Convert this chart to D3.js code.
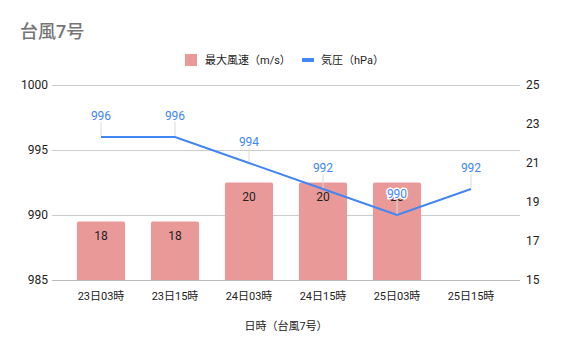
<!DOCTYPE html>
<html><head><meta charset="utf-8">
<script src="https://cdn.jsdelivr.net/npm/d3@7"></script>
<style>
body{margin:0;background:#fff;}
text{font-family:Roboto,"Noto Sans CJK JP",sans-serif;}
</style></head>
<body><svg id="chart" width="565" height="350"></svg>
<script>
const categories = ["23日03時","23日15時","24日03時","24日15時","25日03時","25日15時"];
const windSpeed = [18, 18, 20, 20, 20, null];
const pressure = [996, 996, 994, 992, 990, 992];
const pressureTicks = [985, 990, 995, 1000];
const windTicks = [15, 17, 19, 21, 23, 25];

const svg = d3.select("#chart");
const plotLeft = 52, plotRight = 520, plotTop = 85, plotBottom = 280;

const x = d3.scaleBand().domain(categories).range([plotLeft + 12, plotRight - 12]).paddingInner(0.35).paddingOuter(0.175);
const xc = d => x(d) + x.bandwidth() / 2;
const yP = d3.scaleLinear().domain([985, 1000]).range([plotBottom, plotTop]);
const yW = d3.scaleLinear().domain([15, 25]).range([plotBottom, plotTop]);

// title
svg.append("text").attr("x", 20).attr("y", 38).attr("font-size", 18).attr("font-weight", 500)
  .attr("fill", "#757575").text("台風7号");

// legend
const lg = svg.append("g").attr("font-size", 11).attr("fill", "#222");
lg.append("rect").attr("x", 185).attr("y", 54).attr("width", 12).attr("height", 12).attr("fill", "#ea9999");
lg.append("text").attr("x", 205).attr("y", 64).text("最大風速（m/s）");
lg.append("rect").attr("x", 302).attr("y", 58).attr("width", 12).attr("height", 4).attr("fill", "#4285f4");
lg.append("text").attr("x", 321).attr("y", 64).text("気圧（hPa）");

// gridlines and left axis
const gl = d3.axisLeft(yP).tickValues(pressureTicks).tickFormat(d3.format("d"))
  .tickSize(-(plotRight - plotLeft)).tickPadding(6);
const ga = svg.append("g").attr("transform", `translate(${plotLeft},0)`).call(gl);
ga.select(".domain").remove();
ga.selectAll(".tick line").attr("stroke", "#cccccc");
ga.selectAll(".tick line").filter(d => d === 985).attr("stroke", "#bbbbbb");
ga.selectAll(".tick text").attr("font-size", 12).attr("fill", "#222").attr("x", -4);

// right axis
const gr = svg.append("g").attr("transform", `translate(${plotRight},0)`).call(d3.axisRight(yW).tickValues(windTicks).tickSize(0).tickPadding(6));
gr.select(".domain").remove();
gr.selectAll(".tick text").attr("font-size", 12).attr("fill", "#222");

// bottom axis labels
const gb = svg.append("g").attr("transform", `translate(0,${plotBottom})`).call(d3.axisBottom(x).tickSize(0).tickPadding(12));
gb.select(".domain").remove();
gb.selectAll(".tick text").attr("font-size", 11).attr("fill", "#222");

svg.append("text").attr("x", 286).attr("y", 330).attr("text-anchor", "middle")
  .attr("font-size", 11).attr("fill", "#222").text("日時（台風7号）");

// bars with slightly rounded tops
const r = 2;
const barData = categories.map((c, i) => ({c, v: windSpeed[i]})).filter(d => d.v != null);
svg.append("g").selectAll("path").data(barData).join("path")
  .attr("fill", "#ea9999")
  .attr("d", d => {
    const x0 = x(d.c), x1 = x0 + x.bandwidth(), y0 = yW(d.v), y1 = yW(15);
    return `M${x0},${y1}V${y0 + r}Q${x0},${y0} ${x0 + r},${y0}H${x1 - r}Q${x1},${y0} ${x1},${y0 + r}V${y1}Z`;
  });
svg.append("g").selectAll("text").data(barData).join("text")
  .attr("x", d => xc(d.c)).attr("y", d => yW(d.v) + 18).attr("text-anchor", "middle")
  .attr("font-size", 12).attr("fill", "#222").text(d => d.v);

// pressure line
const pts = categories.map((c, i) => ({c, v: pressure[i]}));
svg.append("path").datum(pts).attr("fill", "none").attr("stroke", "#4285f4").attr("stroke-width", 2)
  .attr("d", d3.line().x(d => xc(d.c)).y(d => yP(d.v)));

// leader lines and labels
svg.append("g").selectAll("line").data(pts).join("line")
  .attr("x1", d => xc(d.c)).attr("x2", d => xc(d.c))
  .attr("y1", d => yP(d.v) - 15).attr("y2", d => yP(d.v) - 1)
  .attr("stroke", "#d9d9d9").attr("stroke-width", 1);
svg.append("g").selectAll("text").data(pts).join("text")
  .attr("x", d => xc(d.c)).attr("y", d => yP(d.v) - 17).attr("text-anchor", "middle")
  .attr("font-size", 12).attr("fill", "#4285f4")
  .attr("stroke", "#fff").attr("stroke-width", 3).attr("paint-order", "stroke")
  .text(d => d.v);
</script></body></html>
